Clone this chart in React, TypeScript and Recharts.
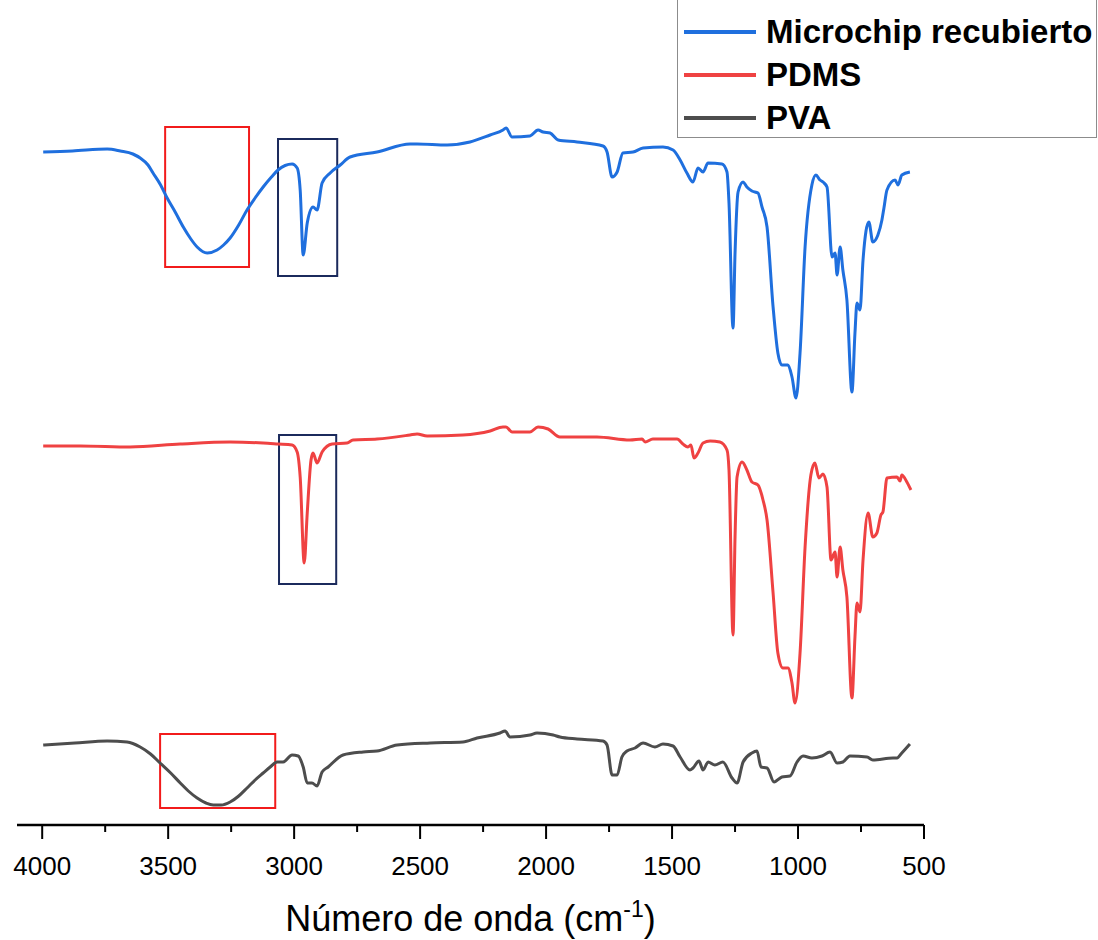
import React from 'react';
import { LineChart, Line, XAxis, YAxis, ReferenceArea, Legend, Label } from 'recharts';

// Wavenumber (cm-1) and offset transmittance (a.u.)
const microWn = [3996,3880,3742,3690,3640,3611,3580,3560,3530,3504,3470,3440,3410,3385,3345,3306,3280,3254,3220,3187,3155,3123,3090,3064,3008,2988,2976,2964,2948,2925,2909,2889,2857,2817,2778,2671,2540,2512,2393,2302,2222,2171,2159,2135,2064,2032,2012,1984,1952,1877,1774,1758,1738,1718,1695,1655,1615,1536,1496,1468,1441,1417,1397,1377,1357,1302,1282,1274,1258,1250,1238,1218,1203,1183,1159,1143,1123,1099,1080,1064,1040,1024,1008,992,972,945,929,913,901,885,865,853,845,833,822,806,786,774,766,754,742,719,703,683,667,659,647,615,603,588,556];
const microT = [673,674,676,674,671,667,660,652,640,627,612,598,586,578,572,575,580,587,600,615,627,638,648,655,661,657,635,570,602,618,615,642,652,660,668,673,681,681,680,683,690,695,697,688,689,695,693,692,685,683,679,673,648,653,672,673,677,678,675,665,652,643,657,653,662,661,653,622,497,572,633,643,638,634,632,618,598,518,472,460,460,448,427,472,578,640,650,645,643,638,568,572,550,578,555,525,433,492,522,515,565,603,583,590,605,617,635,645,640,650,653];

const pdmsWn = [3996,3849,3651,3452,3254,3123,3064,3008,2988,2976,2960,2948,2933,2925,2909,2889,2849,2790,2766,2671,2540,2512,2472,2330,2222,2171,2159,2135,2064,2032,1992,1945,1798,1667,1619,1607,1576,1480,1457,1437,1425,1413,1397,1377,1349,1310,1282,1274,1258,1250,1242,1222,1203,1183,1159,1139,1123,1099,1080,1060,1040,1024,1012,992,972,949,933,917,901,885,869,853,845,833,822,806,786,774,766,754,742,722,703,687,671,663,647,607,595,588,568,552];
const pdmsT = [379,379,378,381,383,382,381,380,373,348,262,312,365,372,362,373,381,382,385,386,390,391,389,390,394,398,398,393,393,398,396,388,388,385,386,383,386,386,381,378,380,367,372,382,384,383,375,355,190,288,348,363,355,343,340,325,305,232,172,157,157,142,122,172,278,350,362,347,351,338,265,273,248,278,255,228,127,188,222,213,265,312,288,292,310,313,347,348,344,350,343,335];

const pvaWn = [3996,3870,3742,3663,3611,3570,3532,3490,3452,3420,3385,3350,3321,3290,3254,3220,3187,3155,3123,3095,3068,3044,3008,2984,2964,2948,2929,2909,2889,2865,2806,2726,2671,2591,2460,2330,2274,2183,2163,2143,2064,2036,1972,1945,1877,1774,1758,1738,1718,1699,1679,1647,1615,1568,1536,1496,1468,1429,1417,1393,1377,1357,1330,1298,1262,1242,1218,1183,1163,1147,1123,1095,1064,1032,1004,980,945,905,873,845,822,794,726,703,623,607,588,556];
const pvaT = [80,82,84,83,78,71,62,52,42,34,27,22,20,20,23,29,37,45,52,58,63,63,70,69,58,42,42,39,53,58,70,73,74,80,82,83,87,92,94,88,90,92,90,88,86,84,80,50,50,68,74,77,82,78,81,79,68,55,57,64,55,63,60,63,47,42,63,72,74,58,57,43,48,49,63,69,67,69,73,62,63,69,68,65,67,67,72,81];

const seriesNames = ['Microchip recubierto', 'PDMS', 'PVA'];
const seriesColors = ['#1F6FDE', '#EF4242', '#4D4D4D'];

const xTicks = [4000, 3750, 3500, 3250, 3000, 2750, 2500, 2250, 2000, 1750, 1500, 1250, 1000, 750, 500];

// Highlight boxes (wavenumber range, transmittance range)
const boxX1 = [3512, 3064, 3060, 3532];
const boxX2 = [3179, 2829, 2833, 3075];
const boxY1 = [558, 549, 241, 17];
const boxY2 = [698, 686, 390, 91];
const boxColors = ['#F21B1B', '#1B2A5C', '#1B2A5C', '#F21B1B'];

const FONT = 'Arimo, "Liberation Sans", Arial, sans-serif';

const toRows = (wn: number[], t: number[]) => wn.map((w, i) => ({ wn: w, t: t[i] }));
const seriesData = [toRows(microWn, microT), toRows(pdmsWn, pdmsT), toRows(pvaWn, pvaT)];

const renderTick = (props: any) => {
  const { x, y, payload } = props;
  const major = payload.value % 500 === 0;
  return (
    <g>
      <line x1={x} x2={x} y1={y} y2={y + (major ? 14 : 7)} stroke="#000" strokeWidth={2} />
      {major && (
        <text x={x} y={y + 50} textAnchor="middle" fontSize={26} fontFamily={FONT} fill="#000">
          {payload.value}
        </text>
      )}
    </g>
  );
};

const renderTitle = (props: any) => {
  const vb = props.viewBox || { x: 17, y: 825, width: 907 };
  const cx = vb.x + vb.width / 2;
  return (
    <text x={cx} y={vb.y + 106} textAnchor="middle" fontSize={36} fontFamily={FONT} fill="#000">
      Número de onda (cm<tspan dy={-14} fontSize={23}>-1</tspan><tspan dy={14}>)</tspan>
    </text>
  );
};

const renderLegend = () => (
  <div
    style={{
      width: 420,
      height: 140,
      boxSizing: 'border-box',
      borderLeft: '1.5px solid #8c8c8c',
      borderRight: '1.5px solid #8c8c8c',
      borderBottom: '1.5px solid #8c8c8c',
      position: 'relative',
      fontFamily: FONT,
      fontWeight: 'bold',
      fontSize: 33,
      color: '#000',
    }}
  >
    {seriesNames.map((name, i) => (
      <div
        key={name}
        style={{
          position: 'absolute',
          left: 0,
          top: 34 + i * 43 - 20,
          height: 40,
          display: 'flex',
          alignItems: 'center',
          whiteSpace: 'nowrap',
        }}
      >
        <span style={{ display: 'inline-block', marginLeft: 6, width: 72, height: 3.5, background: seriesColors[i] }} />
        <span style={{ marginLeft: 10, lineHeight: '40px' }}>{name}</span>
      </div>
    ))}
  </div>
);

export default function App() {
  return (
    <div style={{ position: 'absolute', left: 0, top: 0, width: 1098, height: 940, background: '#fff' }}>
      <LineChart width={1098} height={940} margin={{ top: 0, right: 174, bottom: 0, left: 17 }}>
        <XAxis
          type="number"
          dataKey="wn"
          domain={[500, 4100]}
          reversed
          ticks={xTicks}
          interval={0}
          height={115}
          tickLine={false}
          tickSize={0}
          tickMargin={0}
          axisLine={{ stroke: '#000', strokeWidth: 2.5 }}
          tick={renderTick}
          allowDataOverflow
        >
          <Label content={renderTitle} />
        </XAxis>
        <YAxis type="number" domain={[0, 825]} hide allowDataOverflow />
        {seriesData.map((rows, i) => (
          <Line
            key={seriesNames[i]}
            data={rows}
            dataKey="t"
            name={seriesNames[i]}
            type="monotone"
            stroke={seriesColors[i]}
            strokeWidth={3}
            dot={false}
            activeDot={false}
            isAnimationActive={false}
            strokeLinejoin="round"
          />
        ))}
        {boxX1.map((x1, i) => (
          <ReferenceArea
            key={'box' + i}
            x1={x1}
            x2={boxX2[i]}
            y1={boxY1[i]}
            y2={boxY2[i]}
            fill="none"
            stroke={boxColors[i]}
            strokeWidth={2}
            ifOverflow="visible"
          />
        ))}
        <Legend
          layout="vertical"
          align="center"
          verticalAlign="middle"
          content={renderLegend}
          wrapperStyle={{ position: 'absolute', left: 677, top: -2, width: 420, height: 140 }}
        />
      </LineChart>
    </div>
  );
}
